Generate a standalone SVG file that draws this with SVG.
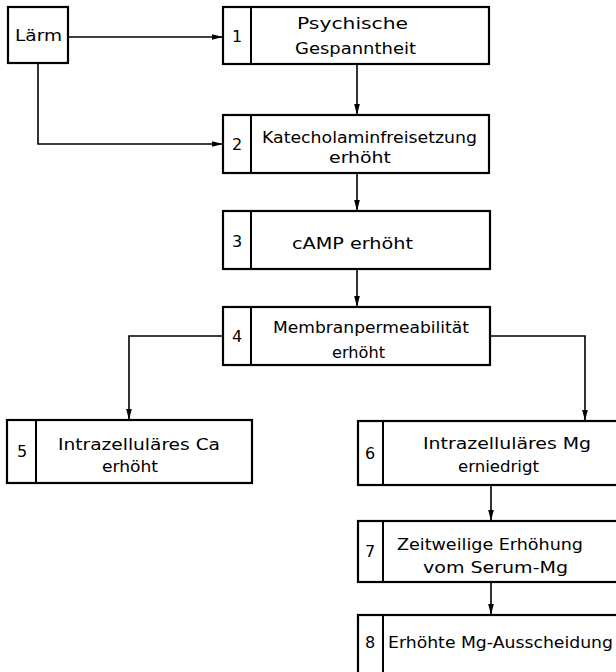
<svg xmlns="http://www.w3.org/2000/svg" width="616" height="672" viewBox="0 0 616 672">
  <defs>
    <marker id="arrow" markerUnits="userSpaceOnUse" markerWidth="12" markerHeight="8" refX="11" refY="4" orient="auto">
      <path d="M0,1.2 L11,4 L0,6.8 Z" fill="#000"/>
    </marker>
    <style>
      .box { fill: #fff; stroke: #000; stroke-width: 2.2; }
      .div { stroke: #000; stroke-width: 2; fill: none; }
      .conn { stroke: #000; stroke-width: 1.6; fill: none; marker-end: url(#arrow); }
      text { font-family: "DejaVu Sans", "Liberation Sans", sans-serif; font-size: 16px; fill: #000; }
      .num { text-anchor: middle; }
    </style>
  </defs>
  <rect width="616" height="672" fill="#fff"/>

  <!-- connectors -->
  <g id="connectors">
    <path class="conn" d="M68,37 H223"/>
    <path class="conn" d="M38,63 V144 H223"/>
    <path class="conn" d="M357,64 V115"/>
    <path class="conn" d="M357,173 V211"/>
    <path class="conn" d="M357,269 V307"/>
    <path class="conn" d="M223,336 H129 V420"/>
    <path class="conn" d="M490,336 H585 V421"/>
    <path class="conn" d="M491,485 V521"/>
    <path class="conn" d="M491,582 V615"/>
  </g>

  <!-- source -->
  <g id="laerm">
    <rect class="box" x="8" y="7" width="60" height="56"/>
    <text x="15" y="41" textLength="47" lengthAdjust="spacingAndGlyphs">Lärm</text>
  </g>

  <g id="n1">
    <rect class="box" x="223" y="7" width="266" height="57"/>
    <line class="div" x1="251" y1="7" x2="251" y2="64"/>
    <text class="num" x="237" y="42">1</text>
    <text x="297" y="29" textLength="111" lengthAdjust="spacingAndGlyphs">Psychische</text>
    <text x="295" y="54" textLength="121" lengthAdjust="spacingAndGlyphs">Gespanntheit</text>
  </g>

  <g id="n2">
    <rect class="box" x="223" y="115" width="266" height="58"/>
    <line class="div" x1="251" y1="115" x2="251" y2="173"/>
    <text class="num" x="237" y="150">2</text>
    <text x="262" y="143" textLength="215" lengthAdjust="spacingAndGlyphs">Katecholaminfreisetzung</text>
    <text x="329" y="163" textLength="62" lengthAdjust="spacingAndGlyphs">erhöht</text>
  </g>

  <g id="n3">
    <rect class="box" x="223" y="211" width="267" height="58"/>
    <line class="div" x1="251" y1="211" x2="251" y2="269"/>
    <text class="num" x="237" y="247">3</text>
    <text x="292" y="249" textLength="121" lengthAdjust="spacingAndGlyphs">cAMP erhöht</text>
  </g>

  <g id="n4">
    <rect class="box" x="223" y="307" width="267" height="58"/>
    <line class="div" x1="251" y1="307" x2="251" y2="365"/>
    <text class="num" x="237" y="342">4</text>
    <text x="273" y="333" textLength="196" lengthAdjust="spacingAndGlyphs">Membranpermeabilität</text>
    <text x="332" y="358" textLength="53" lengthAdjust="spacingAndGlyphs">erhöht</text>
  </g>

  <g id="n5">
    <rect class="box" x="7" y="420" width="245" height="63"/>
    <line class="div" x1="36" y1="420" x2="36" y2="483"/>
    <text class="num" x="22" y="457">5</text>
    <text x="58" y="450" textLength="162" lengthAdjust="spacingAndGlyphs">Intrazelluläres Ca</text>
    <text x="102" y="472" textLength="56" lengthAdjust="spacingAndGlyphs">erhöht</text>
  </g>

  <g id="n6">
    <rect class="box" x="358" y="421" width="270" height="64"/>
    <line class="div" x1="383" y1="421" x2="383" y2="485"/>
    <text class="num" x="370" y="459">6</text>
    <text x="423" y="449" textLength="168" lengthAdjust="spacingAndGlyphs">Intrazelluläres  Mg</text>
    <text x="458" y="472" textLength="81" lengthAdjust="spacingAndGlyphs">erniedrigt</text>
  </g>

  <g id="n7">
    <rect class="box" x="358" y="521" width="270" height="61"/>
    <line class="div" x1="383" y1="521" x2="383" y2="582"/>
    <text class="num" x="370" y="557">7</text>
    <text x="397" y="550" textLength="186" lengthAdjust="spacingAndGlyphs">Zeitweilige Erhöhung</text>
    <text x="423" y="573" textLength="145" lengthAdjust="spacingAndGlyphs">vom Serum-Mg</text>
  </g>

  <g id="n8">
    <rect class="box" x="358" y="615" width="270" height="70"/>
    <line class="div" x1="383" y1="615" x2="383" y2="685"/>
    <text class="num" x="370" y="648">8</text>
    <text x="388" y="648" textLength="225" lengthAdjust="spacingAndGlyphs">Erhöhte Mg-Ausscheidung</text>
  </g>
</svg>
